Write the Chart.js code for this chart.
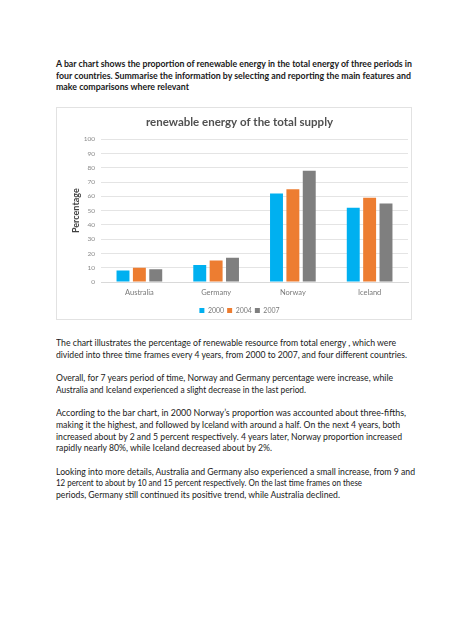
<!DOCTYPE html>
<html>
<head>
<meta charset="utf-8">
<script src="https://cdn.jsdelivr.net/npm/chart.js@4"></script>
<style>
  body { margin: 0; background: #fff; width: 474px; height: 632px; position: relative; overflow: hidden; }
  .txt { position: absolute; left: 56px; font-family: Lato, "Liberation Sans", sans-serif; color: #1a1a1a; line-height: 11.7px; }
  .ln { white-space: nowrap; width: max-content; transform-origin: 0 50%; }
  #task { top: 58px; font-size: 9px; font-weight: bold; }
  #essay { top: 337px; font-size: 9px; }
  #essay p { margin: 0 0 11.7px 0; }
  #box { position: absolute; left: 56px; top: 107px; width: 356px; height: 213px; border: 1px solid #e2e2e2; box-sizing: border-box; }
</style>
</head>
<body>
<div id="task" class="txt">
<div class="ln" data-end="412">A bar chart shows the proportion of renewable energy in the total energy of three periods in</div>
<div class="ln" data-end="411">four countries. Summarise the information by selecting and reporting the main features and</div>
<div class="ln" data-end="189">make comparisons where relevant</div>
</div>

<div id="box"><canvas id="chart"></canvas></div>

<div id="essay" class="txt">
<p><span class="ln" data-end="396" style="display:block">The chart illustrates the percentage of renewable resource from total energy , which were</span>
<span class="ln" data-end="407" style="display:block">divided into three time frames every 4 years, from 2000 to 2007, and four different countries.</span></p>
<p><span class="ln" data-end="393" style="display:block">Overall, for 7 years period of time, Norway and Germany percentage were increase, while</span>
<span class="ln" data-end="306" style="display:block">Australia and Iceland experienced a slight decrease in the last period.</span></p>
<p><span class="ln" data-end="406" style="display:block">According to the bar chart, in 2000 Norway’s proportion was accounted about three-fifths,</span>
<span class="ln" data-end="400" style="display:block">making it the highest, and followed by Iceland with around a half. On the next 4 years, both</span>
<span class="ln" data-end="402" style="display:block">increased about by 2 and 5 percent respectively. 4 years later, Norway proportion increased</span>
<span class="ln" data-end="272" style="display:block">rapidly nearly 80%, while Iceland decreased about by 2%.</span></p>
<p><span class="ln" data-end="415" style="display:block">Looking into more details, Australia and Germany also experienced a small increase, from 9 and</span>
<span class="ln" data-end="362" style="display:block">12 percent to about by 10 and 15 percent respectively. On the last time frames on these</span>
<span class="ln" data-end="340" style="display:block">periods, Germany still continued its positive trend, while Australia declined.</span></p>
</div>

<script>
// data from the chart
const countries = ["Australia", "Germany", "Norway", "Iceland"];
const years = ["2000", "2004", "2007"];
const values2000 = [8, 12, 62, 52];
const values2004 = [10, 15, 65, 59];
const values2007 = [9, 17, 78, 55];
const yTicks = [0, 10, 20, 30, 40, 50, 60, 70, 80, 90, 100];

const barColors = ["#00b0f0", "#ed7d31", "#7f7f7f"];
const chartFont = "Lato, 'Liberation Sans', sans-serif";

// squeeze each text line to the width it has on the page (Calibri is narrower)
document.querySelectorAll(".ln").forEach((el) => {
  const w = el.getBoundingClientRect().width;
  const target = parseFloat(el.dataset.end) - 56;
  el.style.transform = "scaleX(" + (target / w) + ")";
});

const ctx = document.getElementById("chart").getContext("2d");
const chart = new Chart(ctx, {
  type: "bar",
  data: {
    labels: countries,
    datasets: [
      { label: years[0], data: values2000, backgroundColor: barColors[0] },
      { label: years[1], data: values2004, backgroundColor: barColors[1] },
      { label: years[2], data: values2007, backgroundColor: barColors[2] },
    ],
  },
  options: {
    responsive: true,
    maintainAspectRatio: false,
    animation: false,
    categoryPercentage: 0.64,
    barPercentage: 0.79,
    layout: { padding: { left: 14, right: 3, top: 0, bottom: -5 } },
    plugins: {
      title: {
        display: true,
        text: "renewable energy of the total supply",
        color: "#505050",
        font: { family: chartFont, size: 11.5, weight: "bold" },
        padding: { top: 7, bottom: 10.5 },
      },
      legend: {
        position: "bottom",
        labels: {
          boxWidth: 5,
          boxHeight: 5,
          color: "#7a7a7a",
          font: { family: chartFont, size: 7 },
          padding: 3,
        },
      },
      tooltip: { enabled: false },
    },
    scales: {
      x: {
        grid: { display: false, drawTicks: false },
        border: { color: "#d9d9d9" },
        ticks: { color: "#7a7a7a", font: { family: chartFont, size: 7.5 }, padding: 6 },
        afterFit: (scale) => { scale.height = 22; },
      },
      y: {
        min: 0,
        max: 100,
        afterBuildTicks: (scale) => { scale.ticks = yTicks.map((v) => ({ value: v })); },
        grid: { color: "#e4e4e4", drawTicks: false },
        border: { display: false },
        ticks: { color: "#8a8a8a", font: { family: chartFont, size: 6.5 }, padding: 6 },
        title: {
          display: true,
          text: "Percentage",
          color: "#404040",
          font: { family: chartFont, size: 9, weight: "bold" },
          padding: 0,
        },
        afterFit: (scale) => { scale.width = 30; },
      },
    },
  },
});
</script>
</body>
</html>
